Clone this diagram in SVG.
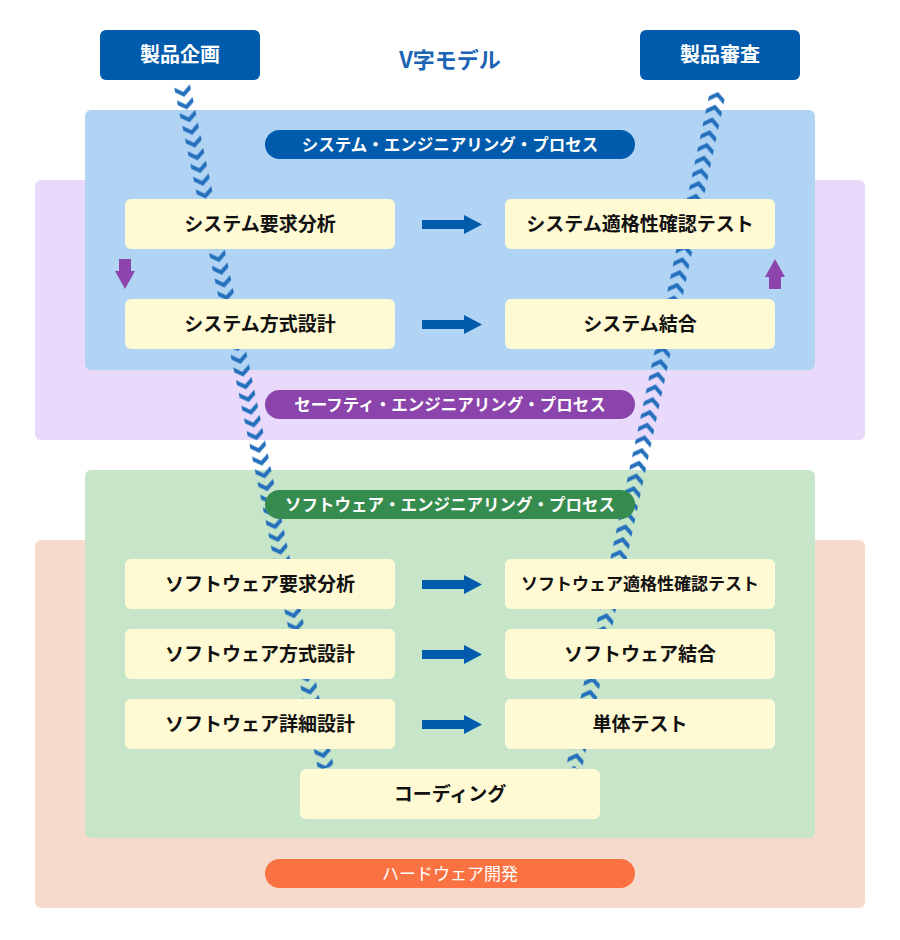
<svg xmlns="http://www.w3.org/2000/svg" width="900" height="940" viewBox="0 0 900 940">
<defs>
<style>
.t{font-family:"Noto Sans CJK JP","Noto Sans",sans-serif;font-weight:bold;text-anchor:middle}
.box{fill:#fffad4}
.bt{font-size:19px;fill:#111}
.pt{font-size:16.5px;fill:#fff}
.ha{fill:#005bac}
.pa{fill:#8e44ad}
</style>
<pattern id="chevD" patternUnits="userSpaceOnUse" x="-10" y="0" width="20" height="13">
<polygon points="2,0 10,6 18,0 18,5 10,11 2,5" fill="#2470bd"/>
</pattern>
<pattern id="chevU" patternUnits="userSpaceOnUse" x="-10" y="0" width="20" height="13">
<polygon points="2,11 10,5 18,11 18,6 10,0 2,6" fill="#2470bd"/>
</pattern>
</defs>
<g id="panels">
<rect x="35" y="180" width="830" height="260" rx="6" fill="#e9d9fb"/>
<rect x="85" y="110" width="730" height="260" rx="6" fill="#b2d4f4"/>
<rect x="35" y="540" width="830" height="368" rx="6" fill="#f6dacb"/>
<rect x="85" y="470" width="730" height="368" rx="6" fill="#c6e5c9"/>
</g>
<text class="t" x="450" y="68" font-size="22" fill="#1b64b4">V字モデル</text>
<g id="connectors">
<g transform="translate(182,86) rotate(-11.92)"><rect x="-10" y="0" width="20" height="697" fill="url(#chevD)"/></g>
<g transform="translate(718,92) rotate(12.03)"><rect x="-10" y="0" width="20" height="691" fill="url(#chevU)"/></g>
<rect class="ha" x="422" y="220" width="44" height="9"/><polygon class="ha" points="464,215 482,224.5 464,234"/>
<rect class="ha" x="422" y="320" width="44" height="9"/><polygon class="ha" points="464,315 482,324.5 464,334"/>
<rect class="ha" x="422" y="580" width="44" height="9"/><polygon class="ha" points="464,575 482,584.5 464,594"/>
<rect class="ha" x="422" y="650" width="44" height="9"/><polygon class="ha" points="464,645 482,654.5 464,664"/>
<rect class="ha" x="422" y="720" width="44" height="9"/><polygon class="ha" points="464,715 482,724.5 464,734"/>
<rect class="pa" x="119" y="259" width="12" height="13"/><polygon class="pa" points="115,271 135,271 125,289"/>
<rect class="pa" x="769" y="276" width="12" height="13"/><polygon class="pa" points="765,277 785,277 775,259"/>
</g>
<g id="start"><rect x="100" y="30" width="160" height="50" rx="6" fill="#005bac"/><text class="t" x="180" y="62" font-size="20" fill="#fff">製品企画</text></g>
<g id="review"><rect x="640" y="30" width="160" height="50" rx="6" fill="#005bac"/><text class="t" x="720" y="62" font-size="20" fill="#fff">製品審査</text></g>
<g id="sys-label"><rect x="265" y="130" width="370" height="29" rx="14.5" fill="#005bac"/><text class="t pt" x="450" y="150.5">システム・エンジニアリング・プロセス</text></g>
<g id="safety-label"><rect x="265" y="390" width="370" height="29" rx="14.5" fill="#8b44ab"/><text class="t pt" x="450" y="410.5">セーフティ・エンジニアリング・プロセス</text></g>
<g id="sw-label"><rect x="265" y="490" width="370" height="29" rx="14.5" fill="#368c4e"/><text class="t pt" x="450" y="510.5">ソフトウェア・エンジニアリング・プロセス</text></g>
<g id="hw-label"><rect x="265" y="859" width="370" height="29" rx="14.5" fill="#fa7242"/><text class="t" x="450" y="879.5" font-size="17" font-weight="normal" fill="#fff" style="font-weight:normal">ハードウェア開発</text></g>
<g id="n1"><rect class="box" x="125" y="199" width="270" height="50" rx="6"/><text class="t bt" x="260" y="231">システム要求分析</text></g>
<g id="n2"><rect class="box" x="125" y="299" width="270" height="50" rx="6"/><text class="t bt" x="260" y="331">システム方式設計</text></g>
<g id="n3"><rect class="box" x="505" y="199" width="270" height="50" rx="6"/><text class="t bt" x="640" y="231">システム適格性確認テスト</text></g>
<g id="n4"><rect class="box" x="505" y="299" width="270" height="50" rx="6"/><text class="t bt" x="640" y="331">システム結合</text></g>
<g id="n5"><rect class="box" x="125" y="559" width="270" height="50" rx="6"/><text class="t bt" x="260" y="591">ソフトウェア要求分析</text></g>
<g id="n6"><rect class="box" x="125" y="629" width="270" height="50" rx="6"/><text class="t bt" x="260" y="661">ソフトウェア方式設計</text></g>
<g id="n7"><rect class="box" x="125" y="699" width="270" height="50" rx="6"/><text class="t bt" x="260" y="731">ソフトウェア詳細設計</text></g>
<g id="n8"><rect class="box" x="505" y="559" width="270" height="50" rx="6"/><text class="t" x="640" y="590" font-size="17" fill="#111">ソフトウェア適格性確認テスト</text></g>
<g id="n9"><rect class="box" x="505" y="629" width="270" height="50" rx="6"/><text class="t bt" x="640" y="661">ソフトウェア結合</text></g>
<g id="n10"><rect class="box" x="505" y="699" width="270" height="50" rx="6"/><text class="t bt" x="640" y="731">単体テスト</text></g>
<g id="n11"><rect class="box" x="300" y="769" width="300" height="50" rx="6"/><text class="t bt" x="450" y="801">コーディング</text></g>
</svg>
